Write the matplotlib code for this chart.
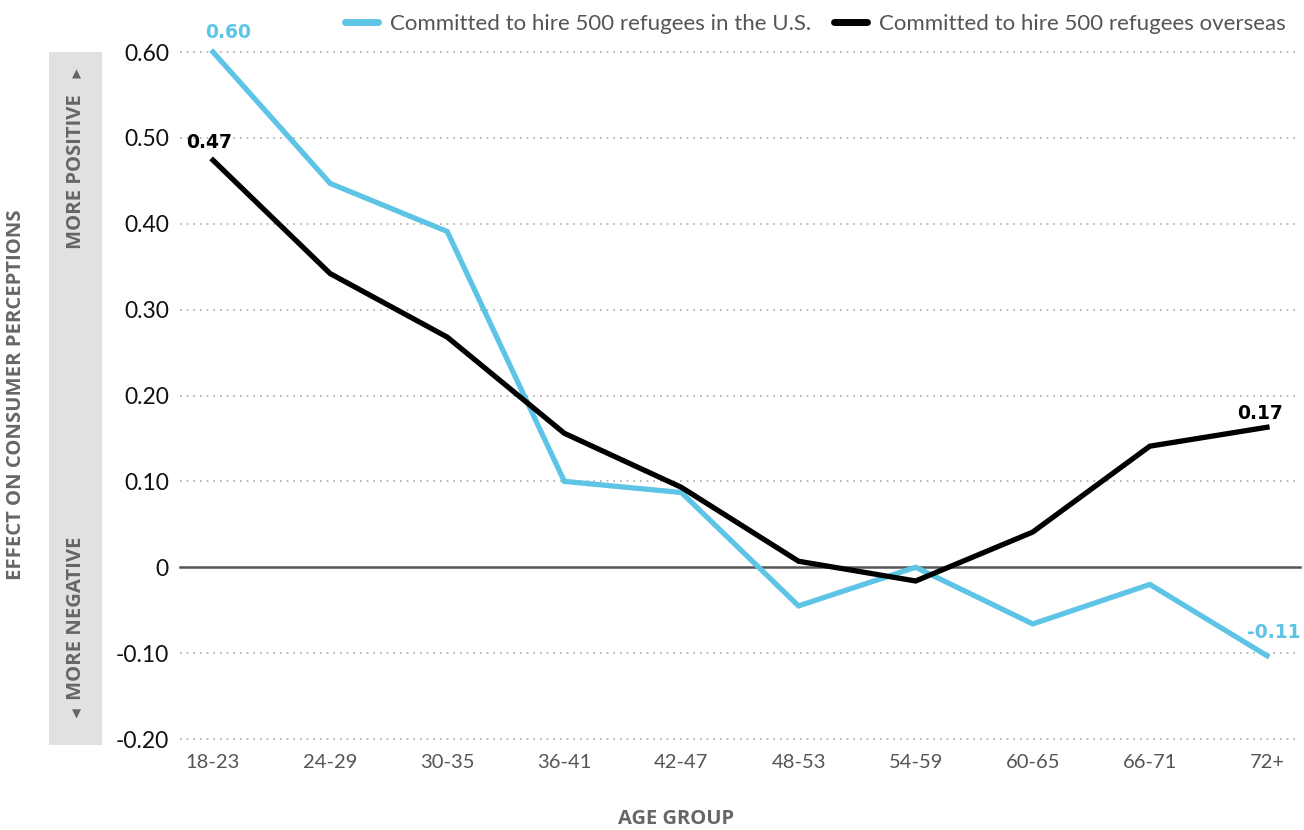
import matplotlib
matplotlib.use("Agg")
import matplotlib.pyplot as plt

plt.rcParams['font.family'] = ['Lato', 'DejaVu Sans']

age_groups = ["18-23", "24-29", "30-35", "36-41", "42-47", "48-53", "54-59", "60-65", "66-71", "72+"]
us_values = [0.60, 0.447, 0.391, 0.100, 0.087, -0.045, 0.000, -0.066, -0.020, -0.103]
overseas_values = [0.474, 0.342, 0.268, 0.156, 0.093, 0.007, -0.016, 0.041, 0.141, 0.163]
y_ticks = [-0.20, -0.10, 0, 0.10, 0.20, 0.30, 0.40, 0.50, 0.60]
y_tick_labels = ["-0.20", "-0.10", "0", "0.10", "0.20", "0.30", "0.40", "0.50", "0.60"]
series_labels = ["Committed to hire 500 refugees in the U.S.", "Committed to hire 500 refugees overseas"]
end_labels_us = ["0.60", "-0.11"]
end_labels_overseas = ["0.47", "0.17"]

BLUE = "#5EC4E6"
BLACK = "#000000"
GREY = "#555555"
LABEL_FONT = ["Open Sans", "DejaVu Sans"]
VALUE_FONT = ["DejaVu Sans"]

W, H = 1304, 830
fig = plt.figure(figsize=(W / 100, H / 100), dpi=100)
ax = fig.add_axes([180 / W, 1 - 739 / H, (1300 - 180) / W, (739 - 52) / H])

x = list(range(len(age_groups)))
ax.set_xlim(-0.282, len(age_groups) - 1 + 0.282)
ax.set_ylim(-0.2, 0.6)

for v in y_ticks:
    if v == 0:
        ax.axhline(v, color="#555555", lw=1.8, zorder=1, clip_on=False)
    else:
        ax.axhline(v, color="#aaaaaa", lw=1.2, ls=(0, (1, 3)), zorder=1, clip_on=False)

ax.plot(x, us_values, color=BLUE, lw=3.8, label=series_labels[0], zorder=3, clip_on=False, solid_joinstyle='miter')
ax.plot(x, overseas_values, color=BLACK, lw=3.8, label=series_labels[1], zorder=3, clip_on=False, solid_joinstyle='miter')

for s in ax.spines.values():
    s.set_visible(False)
ax.set_yticks(y_ticks)
ax.set_yticklabels(y_tick_labels, fontsize=16.5, color="#111111")
ax.set_xticks(x)
ax.set_xticklabels(age_groups, fontsize=14.5, color=GREY)
ax.tick_params(axis='both', length=0)
ax.tick_params(axis='y', pad=8)
ax.tick_params(axis='x', pad=11)

# end labels
ann_kw = dict(textcoords="offset points", fontsize=13.5, fontweight="bold", family=VALUE_FONT)
ax.annotate(end_labels_us[0], (x[0], us_values[0]), xytext=(11, 14), color=BLUE, ha="center", va="center", **ann_kw)
ax.annotate(end_labels_us[1], (x[-1], us_values[-1]), xytext=(5, 17), color=BLUE, ha="center", va="center", **ann_kw)
ax.annotate(end_labels_overseas[0], (x[0], overseas_values[0]), xytext=(-3, 13), color=BLACK, ha="center", va="center", **ann_kw)
ax.annotate(end_labels_overseas[1], (x[-1], overseas_values[-1]), xytext=(-5, 10), color=BLACK, ha="center", va="center", **ann_kw)

# legend
leg = fig.legend(loc="upper right", bbox_to_anchor=(1306 / W, 1 + 6 / H), ncol=2, frameon=False,
                 fontsize=16, handlelength=1.5, handletextpad=0.55, columnspacing=1.0)
for t in leg.get_texts():
    t.set_color(GREY)
for h in leg.get_lines():
    h.set_linewidth(5)
    h.set_solid_capstyle('round')

# grey band with direction labels
band = plt.Rectangle((49 / W, 1 - 745 / H), (102 - 49) / W, (745 - 52) / H, transform=fig.transFigure,
                     facecolor="#e1e1e1", edgecolor="none", zorder=0)
fig.patches.append(band)
fig.text(76 / W, 1 - 172 / H, "MORE POSITIVE", rotation=90, ha="center", va="center",
         fontsize=14.6, fontweight="bold", color="#666666", family=LABEL_FONT)
fig.text(76 / W, 1 - 618 / H, "MORE NEGATIVE", rotation=90, ha="center", va="center",
         fontsize=14.6, fontweight="bold", color="#666666", family=LABEL_FONT)
fig.text(76 / W, 1 - 74 / H, "\u25B2", ha="center", va="center", fontsize=8.5, color="#666666",
         family=["DejaVu Sans"])
fig.text(76 / W, 1 - 714 / H, "\u25BC", ha="center", va="center", fontsize=8.5, color="#666666",
         family=["DejaVu Sans"])

fig.text(16 / W, 1 - 395 / H, "EFFECT ON CONSUMER PERCEPTIONS", rotation=90, ha="center", va="center",
         fontsize=14.6, fontweight="bold", color="#666666", family=LABEL_FONT)
fig.text(676 / W, 1 - 819 / H, "AGE GROUP", ha="center", va="center",
         fontsize=14.5, fontweight="bold", color="#666666", family=LABEL_FONT)

fig.savefig("out.png", dpi=100, facecolor="white")
